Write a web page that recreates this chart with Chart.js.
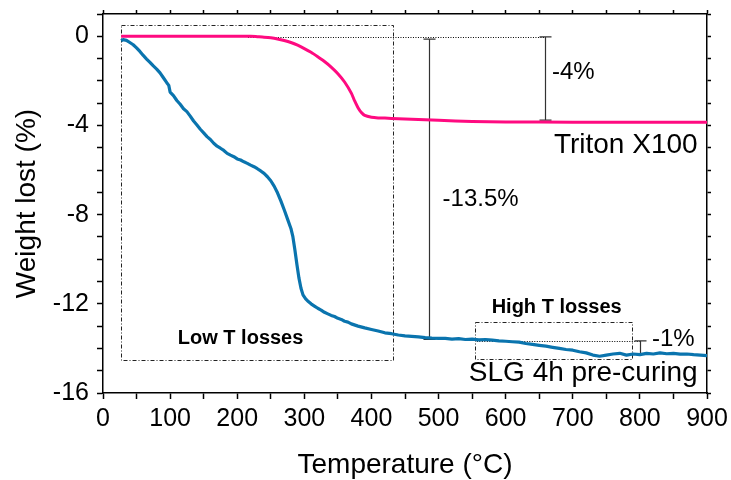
<!DOCTYPE html>
<html>
<head>
<meta charset="utf-8">
<script src="https://cdn.jsdelivr.net/npm/chart.js@4.4.1/dist/chart.umd.min.js"></script>
<style>
  html, body { margin: 0; padding: 0; background: #fff; }
  #wrap { width: 731px; height: 480px; position: relative; }
</style>
</head>
<body>
<div id="wrap"><canvas id="chart_tga"></canvas></div>
<script>
// Triton X100 curve (temperature in °C, weight in %)
var tritonTemp = [27, 50, 100, 150, 200, 220, 230, 240, 250, 260, 270, 280, 290, 300, 310, 320, 330, 340, 350, 360, 370, 375, 380, 385, 390, 400, 410, 420, 440, 460, 480, 500, 550, 600, 700, 800, 900];
var tritonWeight = [0, 0, 0, 0, 0, 0, -0.02, -0.04, -0.07, -0.12, -0.19, -0.28, -0.4, -0.55, -0.72, -0.92, -1.13, -1.38, -1.68, -2.05, -2.55, -2.9, -3.2, -3.42, -3.55, -3.63, -3.66, -3.67, -3.7, -3.72, -3.74, -3.77, -3.82, -3.84, -3.85, -3.85, -3.85];

// SLG 4h pre-curing curve
var slgTemp = [27, 30, 35, 40, 45, 50, 55, 60, 65, 70, 75, 80, 85, 90, 95, 98, 100, 105, 110, 115, 120, 125, 130, 135, 140, 145, 150, 155, 160, 165, 170, 175, 180, 185, 190, 195, 200, 205, 210, 215, 220, 225, 230, 235, 240, 245, 250, 255, 260, 265, 270, 275, 280, 283, 286, 289, 292, 295, 298, 302, 306, 310, 315, 320, 325, 330, 335, 340, 345, 350, 355, 360, 365, 370, 380, 390, 400, 410, 420, 430, 440, 450, 460, 470, 480, 490, 500, 510, 520, 530, 540, 550, 560, 570, 580, 590, 600, 610, 620, 630, 640, 650, 660, 670, 680, 690, 700, 710, 720, 730, 740, 750, 760, 770, 780, 790, 800, 810, 820, 830, 840, 850, 860, 870, 880, 890, 900];
var slgWeight = [-0.2, -0.15, -0.18, -0.28, -0.38, -0.52, -0.68, -0.86, -1.02, -1.17, -1.33, -1.47, -1.64, -1.86, -2.08, -2.2, -2.5, -2.66, -2.88, -3.05, -3.25, -3.38, -3.58, -3.8, -3.98, -4.17, -4.33, -4.5, -4.63, -4.8, -4.93, -5.02, -5.12, -5.25, -5.33, -5.4, -5.5, -5.55, -5.63, -5.7, -5.78, -5.85, -5.94, -6.04, -6.15, -6.3, -6.48, -6.72, -7.02, -7.38, -7.78, -8.2, -8.62, -9.0, -9.6, -10.25, -10.85, -11.3, -11.6, -11.78, -11.9, -12.0, -12.1, -12.2, -12.28, -12.38, -12.45, -12.52, -12.57, -12.65, -12.7, -12.78, -12.82, -12.9, -13.0, -13.08, -13.15, -13.22, -13.3, -13.34, -13.4, -13.44, -13.46, -13.48, -13.52, -13.54, -13.55, -13.55, -13.58, -13.56, -13.6, -13.58, -13.62, -13.6, -13.63, -13.66, -13.68, -13.7, -13.72, -13.78, -13.82, -13.86, -13.9, -13.95, -14.0, -14.05, -14.08, -14.15, -14.2, -14.3, -14.35, -14.3, -14.25, -14.22, -14.3, -14.25, -14.28, -14.22, -14.25, -14.2, -14.24, -14.22, -14.26, -14.25, -14.28, -14.3, -14.32];

// annotation elements, all in data units
var lossBoxes = [[27, 433, 0.52, -14.5], [554, 788, -12.82, -14.5]];      // x0, x1, yTop, yBottom
var guideLines = [[216, 658, -0.05], [557, 800, -13.66]];                  // x0, x1, y
var lossBars = [[486, -0.13, -13.6], [658, -0.03, -3.76], [800, -13.66, -14.26]]; // x, yTop, yBottom
var noteTexts = ['Low T losses', 'High T losses', '-13.5%', '-4%', '-1%', 'Triton X100', 'SLG 4h pre-curing'];
var noteX = [205, 676, 506, 669, 818, 886, 886];
var noteY = [-13.55, -12.16, -7.33, -1.63, -13.58, -4.9, -15.1];

var FONT = '"Liberation Sans", Arial, sans-serif';

function toPoints(xs, ys) {
    return xs.map(function (x, i) { return { x: x, y: ys[i] }; });
}

var annotationPlugin = {
    id: 'tgaNotes',
    beforeDatasetsDraw: function (chart) {
        var ctx = chart.ctx, sx = chart.scales.x, sy = chart.scales.y;
        ctx.save();
        ctx.strokeStyle = '#222';
        ctx.lineWidth = 1;
        ctx.setLineDash([4, 2, 1, 2]);
        lossBoxes.forEach(function (b) {
            var x0 = sx.getPixelForValue(b[0]), x1 = sx.getPixelForValue(b[1]);
            var y0 = sy.getPixelForValue(b[2]), y1 = sy.getPixelForValue(b[3]);
            ctx.strokeRect(Math.round(x0) + 0.5, Math.round(y0) + 0.5, Math.round(x1 - x0), Math.round(y1 - y0));
        });
        ctx.setLineDash([1, 1.5]);
        ctx.strokeStyle = '#000';
        guideLines.forEach(function (g) {
            var y = Math.round(sy.getPixelForValue(g[2])) + 0.5;
            ctx.beginPath();
            ctx.moveTo(sx.getPixelForValue(g[0]), y);
            ctx.lineTo(sx.getPixelForValue(g[1]), y);
            ctx.stroke();
        });
        ctx.setLineDash([]);
        ctx.strokeStyle = '#333';
        ctx.lineWidth = 1.2;
        lossBars.forEach(function (b) {
            var x = Math.round(sx.getPixelForValue(b[0])) + 0.5;
            var y0 = sy.getPixelForValue(b[1]), y1 = sy.getPixelForValue(b[2]);
            ctx.beginPath();
            ctx.moveTo(x, y0); ctx.lineTo(x, y1);
            ctx.moveTo(x - 6, y0); ctx.lineTo(x + 6, y0);
            ctx.moveTo(x - 6, y1); ctx.lineTo(x + 6, y1);
            ctx.stroke();
        });
        ctx.restore();
    },
    afterDatasetsDraw: function (chart) {
        var ctx = chart.ctx, sx = chart.scales.x, sy = chart.scales.y;
        ctx.save();
        ctx.fillStyle = '#000';
        ctx.textBaseline = 'middle';
        noteTexts.forEach(function (t, i) {
            var x = sx.getPixelForValue(noteX[i]), y = sy.getPixelForValue(noteY[i]);
            if (i < 2) {
                ctx.font = 'bold 20px ' + FONT;
                ctx.textAlign = 'center';
            } else if (i < 5) {
                ctx.font = '24px ' + FONT;
                ctx.textAlign = 'left';
            } else {
                ctx.font = '28px ' + FONT;
                ctx.textAlign = 'right';
            }
            ctx.fillText(t, x, y);
        });
        ctx.restore();
    }
};

var frameBorder = { display: true, color: '#000', width: 1.5 };

// fixed box sizes so the plot area lands where the original one is
function fixHeight(h) {
    return function (s) { s.height = h; s.paddingLeft = 0; s.paddingRight = 0; };
}
function fixWidth(w) {
    return function (s) { s.width = w; s.paddingTop = 0; s.paddingBottom = 0; };
}

var chart_tga = new Chart(document.getElementById('chart_tga'), {
    type: 'line',
    data: {
        datasets: [
            {
                label: 'SLG 4h pre-curing',
                data: toPoints(slgTemp, slgWeight),
                borderColor: '#0a74ae',
                borderWidth: 3.2,
                pointRadius: 0,
                tension: 0,
                borderJoinStyle: 'round'
            },
            {
                label: 'Triton X100',
                data: toPoints(tritonTemp, tritonWeight),
                borderColor: '#ff0a80',
                borderWidth: 3,
                pointRadius: 0,
                tension: 0.2,
                borderJoinStyle: 'round'
            }
        ]
    },
    options: {
        animation: false,
        responsive: true,
        maintainAspectRatio: false,
        layout: { padding: 0 },
        plugins: {
            legend: { display: false },
            tooltip: { enabled: false }
        },
        scales: {
            x: {
                type: 'linear',
                position: 'bottom',
                min: 0,
                max: 900,
                ticks: {
                    stepSize: 50,
                    autoSkip: false,
                    maxRotation: 0,
                    padding: 5,
                    color: '#000',
                    font: { family: FONT, size: 25 },
                    callback: function (v) { return v % 100 === 0 ? String(v) : ''; }
                },
                grid: { drawOnChartArea: false, tickLength: 6, tickWidth: 1.5, tickColor: '#000' },
                border: frameBorder,
                title: {
                    display: true,
                    text: 'Temperature (°C)',
                    color: '#000',
                    font: { family: FONT, size: 28 },
                    padding: { top: 0, bottom: -2 }
                },
                afterFit: fixHeight(87)
            },
            x2: {
                type: 'linear',
                position: 'top',
                min: 0,
                max: 900,
                ticks: { stepSize: 50, display: false },
                grid: { drawOnChartArea: false, tickLength: 4, tickWidth: 1.5, tickColor: '#000' },
                border: frameBorder,
                afterFit: fixHeight(14)
            },
            y: {
                type: 'linear',
                position: 'left',
                min: -16,
                max: 1,
                ticks: {
                    stepSize: 1,
                    autoSkip: false,
                    padding: 8,
                    color: '#000',
                    font: { family: FONT, size: 25 },
                    callback: function (v) { return (v <= 0 && v % 4 === 0) ? String(v) : ''; }
                },
                grid: { drawOnChartArea: false, tickLength: 6, tickWidth: 1.5, tickColor: '#000' },
                border: frameBorder,
                title: {
                    display: true,
                    text: 'Weight lost (%)',
                    color: '#000',
                    font: { family: FONT, size: 28 },
                    padding: { top: 10, bottom: 0 }
                },
                afterFit: fixWidth(103)
            },
            y2: {
                type: 'linear',
                position: 'right',
                min: -16,
                max: 1,
                ticks: { stepSize: 1, display: false },
                grid: { drawOnChartArea: false, tickLength: 4, tickWidth: 1.5, tickColor: '#000' },
                border: frameBorder,
                afterFit: fixWidth(24)
            }
        }
    },
    plugins: [annotationPlugin]
});
</script>
</body>
</html>
